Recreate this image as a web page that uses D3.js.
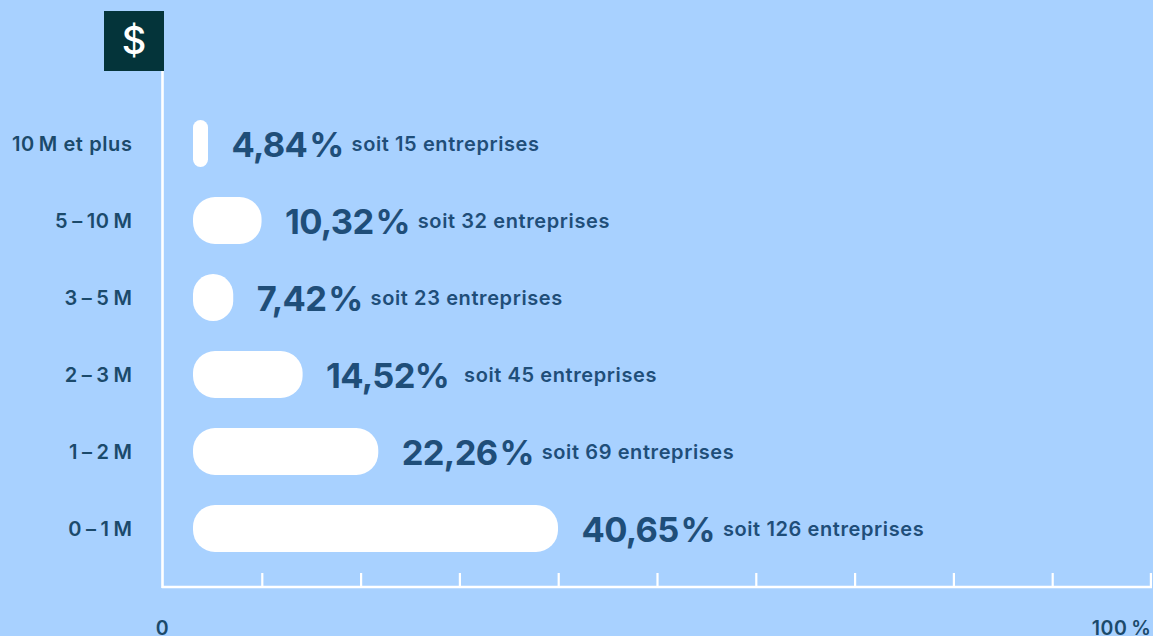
<!DOCTYPE html>
<html><head><meta charset="utf-8">
<script src="https://cdn.jsdelivr.net/npm/d3@7"></script>
<style>
html,body{margin:0;padding:0;background:#a8d1ff;overflow:hidden}
text{font-family:Inter,sans-serif}
</style></head><body>
<svg id="c" width="1153" height="636"></svg>
<script>
const categories = ["10\u2009M et plus","5\u2009\u2013\u200910\u2009M","3\u2009\u2013\u20095\u2009M","2\u2009\u2013\u20093\u2009M","1\u2009\u2013\u20092\u2009M","0\u2009\u2013\u20091\u2009M"];
const percents = [4.84,10.32,7.42,14.52,22.26,40.65];
const percentLabels = ["4,84\u200a%","10,32\u200a%","7,42\u200a%","14,52%","22,26\u200a%","40,65\u200a%"];
const counts = [15,32,23,45,69,126];
const axisTicks = [0,10,20,30,40,50,60,70,80,90,100];
const axisEndLabels = {0:"0",100:"100\u2009%"};

const bg="#a8d1ff", ink="#1f4e79", inkDark="#1b4a6b";
const svg=d3.select("#c");
svg.append("rect").attr("width",1153).attr("height",636).attr("fill",bg);

const x=d3.scaleLinear().domain([0,100]).range([163,1151]);
const barEnd=d3.scaleLinear().domain([0,100]).range([160.7,1138.1]);
const y=d3.scaleBand().domain(categories).range([105,567]).paddingInner(30/77).paddingOuter(15/77);
const barStart=193;

// axes
const gx=svg.append("g").attr("transform","translate(0,587)")
 .call(d3.axisBottom(x).tickValues(axisTicks).tickSizeInner(-14).tickSizeOuter(0).tickPadding(34)
   .tickFormat(d=>axisEndLabels[d]||""));
gx.selectAll("path.domain").attr("stroke","#fff").attr("stroke-width",2.4).attr("d","M161.8,0H1152");
gx.selectAll(".tick line").attr("stroke","#fff").attr("stroke-width",2.2);
gx.selectAll(".tick").filter(d=>d===0).select("line").remove();
gx.selectAll(".tick").filter(d=>d===100).select("line").attr("x1",-0.6).attr("x2",-0.6);
gx.selectAll(".tick text").attr("fill",inkDark).attr("font-size",19.5).attr("font-weight",600)
  .attr("font-family","Inter,sans-serif").attr("letter-spacing",0.6);
gx.selectAll(".tick").filter(d=>d===100).select("text").attr("text-anchor","end");
gx.selectAll(".tick").filter(d=>d===0).attr("transform","translate(162.5,0)");

svg.append("line").attr("x1",162.5).attr("x2",162.5).attr("y1",71).attr("y2",588).attr("stroke","#fff").attr("stroke-width",2.6);

const gy=svg.append("g").attr("transform","translate(163.5,1)")
 .call(d3.axisLeft(y).tickSize(0).tickPadding(31));
gy.select("path.domain").remove();
gy.selectAll(".tick text").attr("fill",inkDark).attr("font-size",20).attr("font-weight",600)
  .attr("font-family","Inter,sans-serif").attr("letter-spacing",0.6);

// icon
svg.append("rect").attr("x",104).attr("y",11).attr("width",60).attr("height",60).attr("fill","#04343a");
svg.append("text").attr("x",134).attr("y",54).attr("text-anchor","middle").attr("fill","#fff")
  .attr("font-size",38).attr("font-weight",500).text("$");

// rows
const rows=svg.append("g").selectAll("g").data(categories).join("g");
rows.append("rect")
 .attr("x",barStart).attr("y",d=>y(d))
 .attr("width",(d,i)=>barEnd(percents[i])-barStart)
 .attr("height",y.bandwidth())
 .attr("rx",(d,i)=>Math.min((barEnd(percents[i])-barStart)/2,22))
 .attr("fill","#fff");
const t=rows.append("text")
 .attr("x",(d,i)=>barEnd(percents[i])+23.5)
 .attr("y",d=>y(d)+y.bandwidth()/2)
 .attr("fill",ink);
t.append("tspan").attr("dy",13).attr("font-size",34.5).attr("font-weight",650).attr("letter-spacing",-0.7)
 .text((d,i)=>percentLabels[i]);
t.append("tspan").attr("dy",-6).attr("dx",(d,i)=>percentLabels[i].includes("\u200a")?8:15)
 .attr("font-size",20).attr("font-weight",600).attr("letter-spacing",0.6)
 .text((d,i)=>`soit ${counts[i]} entreprises`);
</script>
</body></html>
